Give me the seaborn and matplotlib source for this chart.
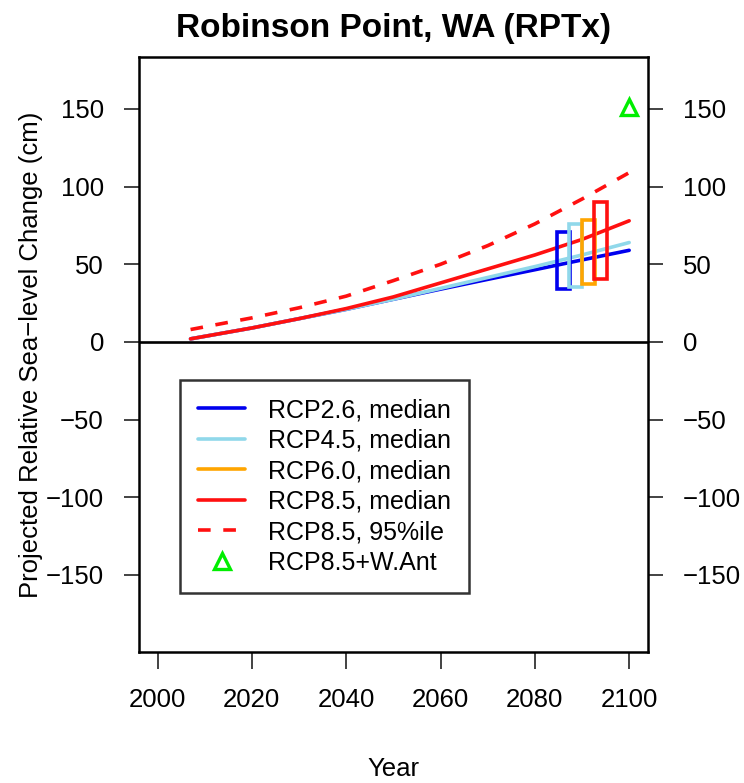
import numpy as np
import pandas as pd
import matplotlib
matplotlib.use("Agg")
import matplotlib.pyplot as plt
from matplotlib.lines import Line2D
import seaborn as sns

# values (cm)
years = [2007, 2020, 2030, 2040, 2050, 2060, 2070, 2080, 2090, 2100]
rcp26_median = [2, 9, 15, 21, 27.5, 34, 40.3, 46.5, 52.8, 59]
rcp45_median = [2, 9, 15, 21, 27.5, 34.5, 41.5, 48.5, 56, 64]
rcp85_median = [2, 9, 15, 21.5, 29, 38, 47, 56, 66, 78]
rcp85_p95 = [8, 15.5, 22, 29.5, 39.5, 50, 62, 76, 92, 109]

# 2100 likely ranges shown as boxes
box_scen = ["RCP2.6", "RCP4.5", "RCP6.0", "RCP8.5"]
box_year = [2086.0, 2088.7, 2091.3, 2093.9]
box_low = [34, 35.6, 37.3, 40.6]
box_high = [71, 76, 78.5, 90.3]

want_year = [2100]
want_val = [151]

colors = {"RCP2.6": "#0000ee", "RCP4.5": "#90d8ea", "RCP6.0": "#ffa500", "RCP8.5": "#ff1010"}
ant_color = "#00ee00"

lines = pd.concat([
    pd.DataFrame({"year": years, "slr": rcp26_median, "series": "RCP2.6"}),
    pd.DataFrame({"year": years, "slr": rcp45_median, "series": "RCP4.5"}),
    pd.DataFrame({"year": years, "slr": rcp85_median, "series": "RCP8.5"}),
])

sns.set_theme(style="ticks")
plt.rcParams["font.family"] = ["Liberation Sans", "DejaVu Sans"]
plt.rcParams["text.color"] = "black"
plt.rcParams["axes.labelcolor"] = "black"
plt.rcParams["xtick.color"] = "black"
plt.rcParams["ytick.color"] = "black"

fig = plt.figure(figsize=(7.44, 7.83), dpi=100)
ax = fig.add_axes([0.1864, 0.1673, 0.6846, 0.7600])

lw = 2.6
ax.axhline(0, color="black", lw=1.9, zorder=1)
sns.lineplot(data=lines, x="year", y="slr", hue="series", palette=colors,
             linewidth=lw, legend=False, ax=ax, zorder=3)
ax.plot(years, rcp85_p95, color=colors["RCP8.5"], lw=lw, dashes=(3.5, 3.5), zorder=3)

ax.bar(box_year, np.array(box_high) - np.array(box_low), bottom=box_low, width=2.8,
       fill=False, edgecolor=[colors[s] for s in box_scen], linewidth=lw, zorder=4)

ax.plot(want_year, want_val, marker="^", ls="none", markersize=11,
        markerfacecolor="none", markeredgecolor=ant_color, markeredgewidth=2.4, zorder=5)

ax.set_xlim(1996, 2104)
ax.set_ylim(-199.6, 183.5)
ax.set_xticks(range(2000, 2101, 20))
ax.set_yticks([-150, -100, -50, 0, 50, 100, 150])
ax.tick_params(axis="both", labelsize=18.5, length=12, width=1.2, pad=14, color="#222222")
ax.tick_params(axis="y", right=True, labelright=True, length=11)
for s in ax.spines.values():
    s.set_linewidth(1.8)
    s.set_color("black")

ax.set_xlabel("Year", fontsize=18.5, labelpad=32)
ax.set_ylabel("Projected Relative Sea\u2212level Change (cm)", fontsize=18.5, labelpad=2)
ax.set_title("Robinson Point, WA (RPTx)", fontsize=24, fontweight="bold", pad=14)

handles = [
    Line2D([], [], color=colors["RCP2.6"], lw=lw),
    Line2D([], [], color=colors["RCP4.5"], lw=lw),
    Line2D([], [], color=colors["RCP6.0"], lw=lw),
    Line2D([], [], color=colors["RCP8.5"], lw=lw),
    Line2D([], [], color=colors["RCP8.5"], lw=lw, dashes=(3.5, 3.5)),
    Line2D([], [], marker="^", ls="none", markersize=11, markerfacecolor="none",
           markeredgecolor=ant_color, markeredgewidth=2.4),
]
labels = ["RCP2.6, median", "RCP4.5, median", "RCP6.0, median",
          "RCP8.5, median", "RCP8.5, 95%ile", "RCP8.5+W.Ant"]
leg = ax.legend(handles, labels, loc="upper left", bbox_to_anchor=(0.081, 0.457),
                borderaxespad=0, fontsize=18, frameon=True, fancybox=False,
                edgecolor="black", handlelength=1.9, handletextpad=0.9,
                labelspacing=0.26, borderpad=0.72)
leg.get_frame().set_linewidth(1.8)

fig.savefig("out.png", dpi=100)
